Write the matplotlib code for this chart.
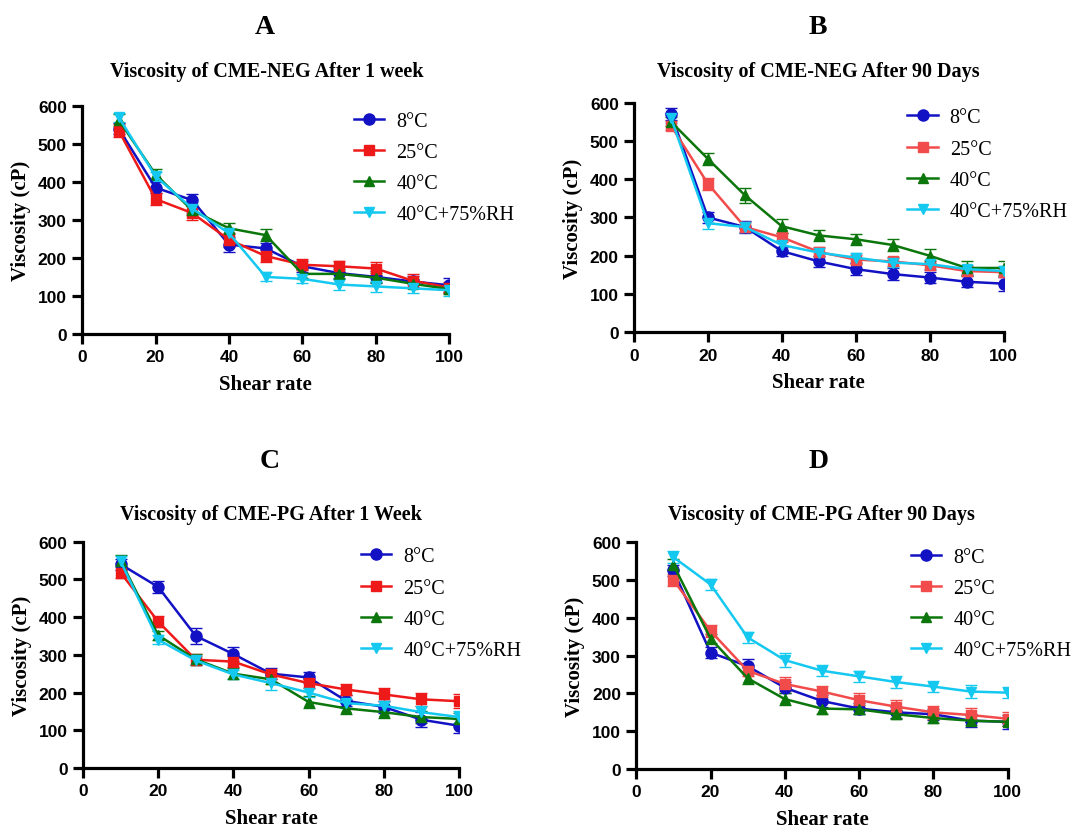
import matplotlib
matplotlib.use('Agg')
import matplotlib.pyplot as plt
from matplotlib.lines import Line2D
import numpy as np

shear = [10, 20, 30, 40, 50, 60, 70, 80, 90, 100]
labels = ['8°C', '25°C', '40°C', '40°C+75%RH']

# A: CME-NEG after 1 week
A_8  = [540, 385, 352, 235, 225, 178, 160, 150, 138, 128]
A_25 = [535, 355, 318, 248, 205, 182, 178, 172, 140, 122]
A_40 = [563, 420, 325, 278, 260, 158, 158, 148, 132, 118]
A_RH = [570, 415, 330, 265, 150, 145, 130, 125, 120, 115]
A_err = [[15, 15, 15, 20, 15, 15, 15, 15, 15, 18],
         [18, 15, 18, 18, 15, 15, 15, 18, 18, 15],
         [15, 15, 12, 15, 15, 12, 12, 12, 12, 12],
         [12, 12, 12, 12, 12, 12, 15, 15, 12, 15]]

# B: CME-NEG after 90 days
B_8  = [570, 300, 275, 212, 185, 165, 152, 143, 132, 127]
B_25 = [540, 388, 275, 248, 210, 190, 185, 175, 160, 157]
B_40 = [550, 453, 358, 277, 253, 243, 228, 200, 168, 168]
B_RH = [560, 285, 275, 228, 208, 195, 182, 178, 165, 160]
B_err = [[15, 15, 15, 12, 15, 15, 15, 15, 15, 18],
         [12, 15, 12, 12, 12, 12, 12, 12, 12, 12],
         [12, 15, 20, 18, 15, 15, 15, 18, 18, 18],
         [12, 15, 12, 12, 12, 12, 12, 12, 12, 12]]

# C: CME-PG after 1 week
C_8  = [540, 480, 350, 302, 250, 240, 178, 162, 128, 112]
C_25 = [518, 388, 287, 282, 248, 225, 208, 195, 182, 177]
C_40 = [550, 352, 288, 250, 235, 175, 158, 148, 135, 130]
C_RH = [548, 340, 285, 248, 225, 200, 172, 165, 148, 135]
C_err = [[15, 15, 20, 18, 15, 15, 15, 15, 20, 18],
         [15, 15, 15, 15, 12, 12, 15, 18, 18, 18],
         [15, 12, 15, 15, 12, 15, 15, 15, 15, 15],
         [15, 12, 12, 12, 18, 12, 12, 12, 15, 15]]

# D: CME-PG after 90 days
D_8  = [525, 308, 272, 215, 180, 160, 150, 145, 128, 125]
D_25 = [500, 365, 260, 225, 205, 182, 165, 150, 143, 133]
D_40 = [540, 345, 240, 185, 160, 158, 145, 135, 128, 125]
D_RH = [560, 488, 348, 288, 260, 245, 230, 218, 205, 202]
D_err = [[15, 15, 18, 15, 15, 15, 15, 15, 18, 18],
         [15, 15, 15, 18, 15, 18, 18, 18, 18, 18],
         [15, 12, 15, 15, 15, 12, 12, 12, 12, 12],
         [15, 15, 15, 18, 15, 15, 15, 15, 18, 15]]

panels = [
    ('A', 'Viscosity of CME-NEG After 1 week', [A_8, A_25, A_40, A_RH], A_err,
     [0.0766, 0.596, 0.343, 0.275], '#ee1a1a', (0.247, 0.967), (0.249, 0.913)),
    ('B', 'Viscosity of CME-NEG After 90 Days', [B_8, B_25, B_40, B_RH], B_err,
     [0.592, 0.598, 0.345, 0.277], '#f24b4b', (0.764, 0.967), (0.764, 0.913)),
    ('C', 'Viscosity of CME-PG After 1 Week', [C_8, C_25, C_40, C_RH], C_err,
     [0.0775, 0.0724, 0.351, 0.273], '#ee1a1a', (0.252, 0.443), (0.253, 0.379)),
    ('D', 'Viscosity of CME-PG After 90 Days', [D_8, D_25, D_40, D_RH], D_err,
     [0.594, 0.071, 0.347, 0.274], '#f24b4b', (0.764, 0.443), (0.767, 0.379)),
]

markers = ['o', 's', '^', 'v']
msizes = [8, 6.5, 7.5, 7.5]

serif = 'Liberation Serif'
sans = 'Liberation Sans'

fig = plt.figure(figsize=(10.71, 8.29), dpi=100)

for letter, title, series, errs, pos, red, lpos, tpos in panels:
    ax = fig.add_axes(pos)
    colors = ['#1212c4', red, '#0b760b', '#14c8f0']
    handles = []
    for k in range(4):
        ax.errorbar(shear, series[k], yerr=errs[k], color=colors[k], marker=markers[k],
                    markersize=msizes[k], linewidth=1.8, elinewidth=1.0, capsize=4,
                    capthick=1.0)
        handles.append(Line2D([], [], color=colors[k], marker=markers[k],
                              markersize=msizes[k], linewidth=1.8, label=labels[k]))
    ax.set_xlim(0, 100)
    ax.set_ylim(0, 600)
    ax.set_xticks(np.arange(0, 101, 20))
    ax.set_yticks(np.arange(0, 601, 100))
    for s in ('top', 'right'):
        ax.spines[s].set_visible(False)
    for s in ('left', 'bottom'):
        ax.spines[s].set_linewidth(2.3)
    ax.tick_params(width=2.3, length=7, direction='out', pad=4)
    for t in ax.get_xticklabels() + ax.get_yticklabels():
        t.set_fontfamily(sans)
        t.set_fontweight('bold')
        t.set_fontsize(12.5)
    ax.set_xlabel('Shear rate', fontfamily=serif, fontweight='bold', fontsize=15, labelpad=7)
    ax.set_ylabel('Viscosity (cP)', fontfamily=serif, fontweight='bold', fontsize=15, labelpad=5)
    fig.text(lpos[0], lpos[1], letter, ha='center', va='center',
             fontfamily=serif, fontweight='bold', fontsize=20)
    fig.text(tpos[0], tpos[1], title, ha='center', va='center',
             fontfamily=serif, fontweight='bold', fontsize=14.5)
    ax.legend(handles=handles, loc='upper left', bbox_to_anchor=(0.74, 0.975), frameon=False,
              prop={'family': serif, 'size': 14.5}, handlelength=1.5,
              handletextpad=0.6, labelspacing=0.6, borderaxespad=0, borderpad=0)

fig.savefig('out.png', dpi=100)
